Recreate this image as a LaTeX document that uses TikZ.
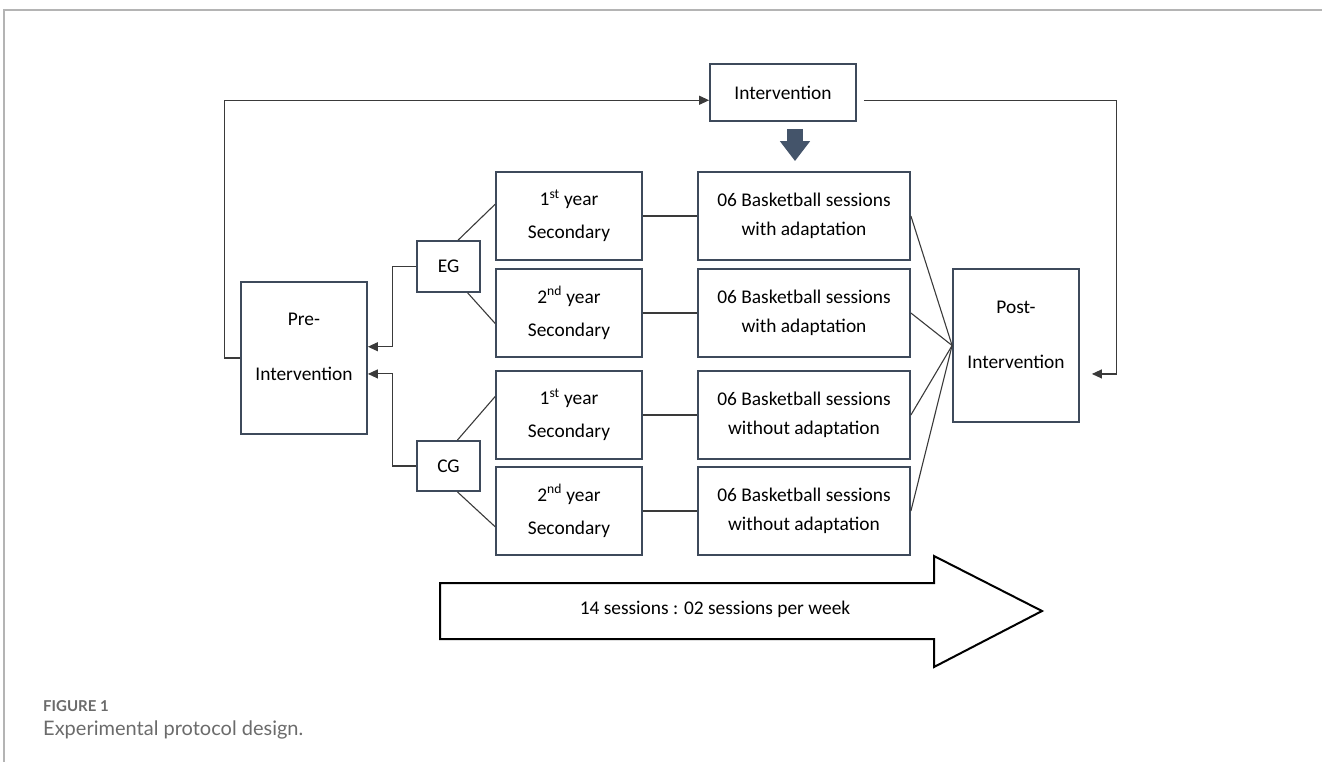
\documentclass[tikz,border=0pt]{standalone}
\usepackage{fontspec}
\setmainfont{Carlito}
\newfontfamily\capfont{Lato}
\usepackage{tikz}
\usetikzlibrary{positioning,arrows.meta}
\usepackage{xcolor}

\definecolor{boxline}{HTML}{3E4A5B}
\definecolor{wire}{HTML}{3A3A3A}
\definecolor{slate}{HTML}{44546A}
\definecolor{framegray}{HTML}{B4B4B4}
\definecolor{capgray}{HTML}{6B6B6B}

\tikzset{
	boxtext/.style={align=center, font=\fontsize{19.4}{23}\selectfont},
	box/.style={boxtext, draw=boxline, line width=1.8pt, inner sep=0pt},
	yearbox/.style={box, minimum width=146pt, minimum height=88pt},
	sessbox/.style={box, minimum width=212pt, minimum height=88pt},
	groupbox/.style={box, minimum width=63pt, minimum height=51pt},
	phasebox/.style={box, minimum width=126pt, minimum height=152pt},
	wire/.style={draw=wire, line width=1.1pt},
	feed/.style={wire, -{Triangle[length=10pt,width=9pt]}}
}

\begin{document}
\begin{tikzpicture}[x=1pt, y=-1pt]
\useasboundingbox (0,0) rectangle (1322,762);
\draw[framegray, line width=1.5pt] (1322,10) -- (4,10) -- (4,762);

\node[box, minimum width=146pt, minimum height=57pt] (int) at (783,92.5) {Intervention};
\node[phasebox, label={[boxtext, yshift=11.5pt]center:Pre-\\[32pt]Intervention}] (pre) at (304,358) {};
\node[phasebox, minimum height=153pt, label={[boxtext, yshift=11pt]center:Post-\\[32pt]Intervention}] (post) at (1016,345.5) {};
\node[groupbox] (eg) at (448.5,266.5) {EG};
\node[groupbox, minimum height=50pt] (cg) at (448.5,466) {CG};

\node[yearbox] (y1) at (569,216) {1\textsuperscript{st} year\\[10pt]Secondary};
\node[yearbox] (y2) at (569,313) {2\textsuperscript{nd} year\\[10pt]Secondary};
\node[yearbox] (y3) at (569,415) {1\textsuperscript{st} year\\[10pt]Secondary};
\node[yearbox] (y4) at (569,511) {2\textsuperscript{nd} year\\[10pt]Secondary};

\node[sessbox] (s1) at (804,216) {06 Basketball sessions\\[6pt]with adaptation};
\node[sessbox] (s2) at (804,313) {06 Basketball sessions\\[6pt]with adaptation};
\node[sessbox] (s3) at (804,415) {06 Basketball sessions\\[6pt]without adaptation};
\node[sessbox] (s4) at (804,511) {06 Basketball sessions\\[6pt]without adaptation};

\draw[wire] (eg.70) -- (y1.171);
\draw[wire] (eg.-54) -- (y2.188);
\draw[wire] (cg.71) -- (y3.166);
\draw[wire] (cg.-71) -- (y4.192);
\foreach \r in {1,...,4}{
	\draw[wire] (y\r.east) -- (s\r.west);
	\draw[wire] (s\r.east) -- (post.west);
}

\draw[feed] (eg.west) -- ++(-24,0) |- (pre.10);
\draw[feed] (cg.west) -- ++(-24,0) |- (pre.-14);
\draw[feed] (pre.west) -- ++(-16,0) |- (int.186);
\draw[feed, shorten <=7pt, shorten >=12pt] (int.-6) -- ++(260,0) |- (post.-24);

\draw[slate, line width=16pt, -{Triangle[length=20pt,width=29pt]}] ([xshift=12pt,yshift=-7pt]int.south) -- ([xshift=-9pt,yshift=10pt]s1.north);

\draw[black, line width=2pt, line join=miter] (440,583) -- (934,583) -- (934,556) -- (1042,611) -- (934,667) -- (934,639) -- (440,639) -- cycle;
\node[boxtext] (weeks) at (715,609) {14 sessions : 02 sessions per week};

\node[anchor=base west, inner sep=0pt, text=capgray, font=\capfont\bfseries\fontsize{15}{18}\selectfont] (fignum) at (43,711) {FIGURE 1};
\node[anchor=base west, inner sep=0pt, text=capgray, font=\capfont\fontsize{20}{24}\selectfont] (figcap) at (43,735) {Experimental protocol design.};
\end{tikzpicture}
\end{document}
